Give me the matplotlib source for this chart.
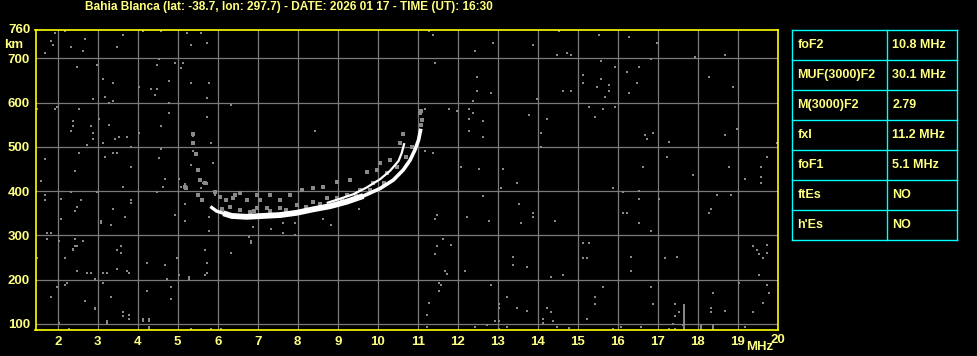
import matplotlib.pyplot as plt

# station / header
title = "Bahia Blanca (lat: -38.7, lon: 297.7) - DATE: 2026 01 17 - TIME (UT): 16:30"

# scaled parameters table
param_names = ["foF2", "MUF(3000)F2", "M(3000)F2", "fxI", "foF1", "ftEs", "h'Es"]
param_values = ["10.8 MHz", "30.1 MHz", "2.79", "11.2 MHz", "5.1 MHz", "NO", "NO"]

freq_ticks = list(range(2, 20))
height_ticks = [100, 200, 300, 400, 500, 600, 700]

# main echo trace (thick, lower/right branch)
trace1_f = [5.85, 5.97, 6.14, 6.35, 6.72, 7.14, 7.56, 7.97, 8.39, 8.81, 9.22, 9.64,
            10.06, 10.39, 10.64, 10.81, 10.93, 11.02, 11.07]
trace1_h = [363, 355, 350, 344, 342, 344, 346, 351, 359, 366, 376, 389,
            406, 425, 448, 470, 493, 515, 537]
# second trace (thin, upper/left branch)
trace2_f = [8.75, 9.0, 9.39, 9.72, 10.06, 10.31, 10.52, 10.6, 10.66]
trace2_h = [374, 381, 393, 408, 427, 446, 468, 486, 506]

# grey echoes around the trace
echo_f = [5.39, 5.39, 5.47, 5.52, 5.56, 5.68, 5.18, 5.22, 5.52, 5.6, 5.93, 6.06, 6.22,
          6.39, 6.43, 6.56, 6.72, 6.97, 7.06, 7.31, 7.56, 7.81, 8.1, 8.39, 8.64, 8.97,
          9.31, 9.72, 10.06, 10.31, 10.56, 10.64, 11.06, 11.08, 11.08, 6.31, 6.56, 6.97,
          7.22, 7.56, 7.97, 8.39, 8.72, 8.97, 9.22, 9.56, 9.89, 10.22, 10.47, 9.97,
          6.9, 7.3, 7.7, 8.2, 8.55, 9.1, 9.45, 9.8, 10.15, 10.7, 10.85, 11.1, 6.1, 6.8]
echo_h = [530, 508, 485, 448, 425, 418, 410, 406, 391, 380, 399, 387, 380,
          384, 391, 395, 380, 391, 380, 391, 380, 391, 403, 406, 410, 421,
          425, 444, 463, 470, 508, 530, 576, 580, 550, 365, 357, 361,
          361, 363, 369, 376, 384, 384, 391, 403, 418, 440, 455, 448,
          355, 356, 358, 364, 372, 380, 390, 402, 418, 478, 500, 560, 360, 352]

# scattered noise dots
noise_f = [1.93, 2.18, 1.83, 1.88, 1.68, 2.33, 2.68, 2.63, 3.63, 3.48, 4.13, 4.58, 5.23, 5.58,
           5.33, 5.73, 2.48, 2.98, 3.13, 3.38, 4.53, 4.48, 4.93, 5.13, 5.08, 4.78, 5.33, 5.78,
           4.03, 4.33, 4.48, 4.43, 2.88, 3.18, 3.38, 3.28, 5.73, 4.78, 1.48, 1.93, 1.98, 2.53,
           6.33, 2.38, 2.38, 2.33, 2.83, 2.88, 2.88, 3.03, 3.28, 3.43, 3.53, 3.73, 4.03, 4.58,
           4.78, 5.73, 2.73, 3.13, 5.38, 5.38, 5.83, 3.83, 4.58, 4.53, 5.38, 5.43, 5.88, 5.33,
           5.48, 5.53, 1.68, 2.53, 3.18, 3.38, 3.48, 3.83, 2.43, 4.68, 5.03, 5.58,
           11.28, 11.38, 12.43, 12.88, 13.88, 11.43, 12.48, 12.48, 12.83, 12.38, 11.18, 11.78,
           11.98, 12.28, 12.38, 12.28, 12.63, 12.28, 12.63, 13.78, 8.43, 11.18, 11.38, 12.08,
           12.53, 13.13,
           14.53, 15.53, 16.28, 16.98, 14.48, 14.73, 14.83, 16.83, 17.93, 18.68, 15.58, 15.93,
           16.53, 15.13, 16.23, 15.13, 15.58, 15.78, 15.48, 16.48, 14.63, 14.83, 15.78, 16.28,
           15.68, 18.28, 18.88, 13.98, 15.28, 15.63, 15.93, 15.43, 14.23, 14.08, 16.68, 16.88,
           16.73, 17.28, 18.68, 18.98, 19.98, 14.08, 17.23, 19.73, 16.63, 18.78, 19.58, 17.88,
           19.58, 19.18,
           1.58, 3.63, 4.63, 4.68, 5.03, 5.18, 5.08, 5.23, 5.58, 5.63, 5.73, 5.73, 5.58, 1.68,
           1.68, 2.08, 2.33, 2.98, 2.58, 2.48, 2.43, 3.38, 3.83, 3.83, 4.48, 5.48, 5.53, 5.58,
           5.93, 5.93, 5.18, 4.93, 5.18, 5.78, 2.08, 3.08, 3.08, 3.33, 3.68, 1.73, 1.83, 1.73,
           2.03, 2.43, 2.63, 2.38, 2.38, 2.43, 2.48, 3.48, 3.58, 3.58, 1.48, 2.18, 4.23, 4.68,
           4.98, 5.68, 5.73, 6.33, 5.78, 6.78, 6.83, 6.83, 6.88, 7.33, 7.63, 7.63, 2.48, 2.73,
           2.83, 3.13, 3.23, 3.48, 3.73, 3.78, 2.93, 4.73, 5.03, 5.28, 5.28, 5.68, 5.73, 1.98,
           2.18, 2.23, 3.13, 1.83, 2.68, 3.33, 4.23, 4.83, 4.83, 2.93, 3.63, 3.63, 3.78, 3.78,
           3.23, 3.23, 4.13, 4.13, 4.28, 4.28, 2.03, 2.28, 4.28, 4.28, 5.33, 5.83, 6.08, 2.68,
           2.93,
           13.48, 13.08, 12.63, 13.53, 13.88, 13.88, 13.58, 12.78, 12.23, 11.48, 11.43, 11.63,
           11.83, 11.48, 11.43, 13.38, 13.38, 13.73, 12.18, 11.68, 11.73, 11.53, 11.58, 11.53,
           12.83, 13.23, 11.28, 11.23, 11.23, 12.43, 12.73, 12.93, 13.03, 13.03, 13.03, 13.48,
           13.73, 13.23, 13.03, 7.93, 7.93, 8.83, 8.63, 9.53,
           19.18, 19.58, 15.88, 16.13, 16.53, 16.53, 17.03, 16.13, 16.23, 16.53, 16.83, 18.48,
           18.83, 18.33, 18.28, 14.43, 15.13, 15.28, 15.13, 15.23, 16.33, 16.33, 17.18, 17.48,
           19.38, 19.48, 19.73, 19.53, 19.73, 19.63, 19.53, 14.33, 14.63, 19.03, 19.73, 19.78,
           19.63, 19.38, 15.63, 15.43, 15.43, 16.83, 16.88, 18.38, 18.33, 18.33, 18.68, 14.23,
           14.33, 14.13, 14.38, 14.13, 14.48, 15.23, 14.78, 15.88, 16.08, 16.58, 17.43, 17.43,
           17.53, 17.38, 17.28, 17.43, 17.63, 19.18, 14.77]
noise_h = [758, 762, 740, 731, 713, 726, 744, 717, 753, 726, 761, 761, 758, 758,
           731, 735, 681, 686, 654, 645, 699, 686, 690, 690, 677, 649, 645, 645,
           636, 631, 631, 618, 609, 613, 604, 600, 610, 600, 586, 586, 591, 586,
           595, 559, 546, 536, 546, 532, 518, 564, 550, 518, 523, 523, 532, 546,
           577, 568, 505, 509, 524, 512, 509, 500, 496, 475, 491, 482, 464, 460,
           451, 451, 473, 487, 478, 487, 487, 455, 446, 428, 428, 428,
           762, 753, 717, 735, 731, 690, 658, 627, 622, 604, 586, 586,
           582, 586, 577, 564, 559, 536, 523, 573, 536, 491, 487, 455,
           451, 451,
           762, 753, 749, 735, 708, 713, 708, 699, 704, 708, 695, 681,
           681, 663, 668, 645, 654, 640, 636, 645, 627, 627, 627, 622,
           613, 658, 636, 609, 591, 586, 591, 568, 564, 532, 527, 532,
           518, 512, 527, 541, 509, 499, 478, 478, 455, 455, 455, 437,
           433, 428,
           424, 410, 410, 428, 428, 415, 410, 406, 428, 419, 419, 415, 406, 392,
           379, 383, 397, 397, 379, 365, 356, 360, 379, 374, 397, 392, 388, 379,
           397, 392, 370, 347, 333, 342, 338, 333, 329, 324, 342, 306, 306, 293,
           288, 293, 288, 270, 266, 275, 275, 266, 275, 261, 248, 248, 238, 234,
           248, 266, 238, 261, 311, 297, 288, 284, 320, 315, 329, 306, 220, 216,
           216, 216, 216, 225, 220, 216, 202, 202, 211, 207, 202, 211, 216, 184,
           189, 193, 193, 162, 153, 162, 175, 184, 157, 135, 126, 117, 121, 112,
           107, 103, 112, 107, 112, 107, 103, 89, 94, 89, 89, 89, 89, 153,
           134,
           419, 406, 388, 370, 351, 342, 329, 333, 342, 347, 338, 293,
           279, 275, 257, 252, 234, 229, 220, 220, 214, 193, 189, 175,
           187, 162, 148, 121, 94, 94, 98, 107, 107, 144, 135, 135,
           130, 94, 89, 329, 302, 324, 336, 360,
           428, 419, 408, 397, 401, 383, 383, 351, 351, 329, 311, 392,
           392, 360, 351, 333, 284, 284, 248, 248, 252, 220, 250, 252,
           277, 266, 279, 257, 261, 248, 211, 207, 211, 193, 189, 171,
           148, 126, 184, 162, 144, 184, 144, 171, 135, 126, 130, 135,
           126, 112, 107, 103, 94, 112, 92, 89, 94, 94, 144, 117,
           126, 101, 89, 89, 98, 94, 92]

# interference bars near the bottom
bar_f = [17.65, 18.08, 18.38]
bar_top = [145, 100, 100]

BG = "black"
TXT = "#FFFF80"
FONT = ["Liberation Sans Narrow", "Liberation Sans", "DejaVu Sans"]
plt.rcParams["font.family"] = FONT
plt.rcParams["font.weight"] = "bold"

fig = plt.figure(figsize=(9.78, 3.56), dpi=100, facecolor=BG)
ax = fig.add_axes([35.5 / 978, 26 / 356, 742.2 / 978, 300.3 / 356], facecolor=BG)
ax.set_xlim(1.445, 20)
ax.set_ylim(86.4, 764.6)

for f in freq_ticks:
    ax.axvline(f, color="#7a7a7a", lw=0.9, zorder=1)
for h in height_ticks:
    ax.axhline(h, color="#7a7a7a", lw=0.9, zorder=1)

ax.plot(noise_f, noise_h, ls="none", marker="s", ms=1.6, mew=0, color="#8a8a8a", zorder=2)
ax.vlines(bar_f, 86.4, bar_top, color="#8a8a8a", lw=1.4, zorder=2)
ax.plot(echo_f, echo_h, ls="none", marker="s", ms=2.8, mew=0, color="#8a8a8a", zorder=3)
# thick low part of the trace, thinner towards the top
ax.plot(trace1_f[:3], trace1_h[:3], color="white", lw=2.4, zorder=4)
ax.plot(trace1_f[2:12], trace1_h[2:12], color="white", lw=4.2, solid_capstyle="butt", zorder=4)
ax.plot(trace1_f[11:], trace1_h[11:], color="white", lw=2.6, zorder=4)
ax.plot(trace2_f, trace2_h, color="white", lw=1.6, zorder=4)

for s in ax.spines.values():
    s.set_color("#FFFF00")
    s.set_linewidth(1.2)

ax.set_xticks(freq_ticks)
ax.set_xticklabels([str(f) for f in freq_ticks])
ax.set_yticks(height_ticks)
ax.tick_params(length=0, colors=TXT, labelsize=9.5, pad=4)
for lab in ax.get_xticklabels() + ax.get_yticklabels():
    lab.set_fontweight("bold")

ax.text(-0.006, 1.0, "760", transform=ax.transAxes, ha="right", va="center",
        color=TXT, fontsize=9.5, fontweight="bold")
ax.text(-0.03, 0.95, "km", transform=ax.transAxes, ha="center", va="center",
        color=TXT, fontsize=9.5, fontweight="bold")
fig.text(760 / 978, 1 - 347 / 356, "MHz", ha="center", va="center", color=TXT,
         fontsize=9.5, fontweight="bold")
fig.text(778 / 978, 1 - 340 / 356, "20", ha="center", va="center", color=TXT,
         fontsize=9.5, fontweight="bold")

fig.text(289 / 978, 1 - 7 / 356, title, ha="center", va="center", color=TXT,
         fontsize=8.6, fontweight="bold")

# parameter table
tx0, tx1, tcol = 792.3, 957.3, 887.3
ty0, row_h = 30.3, 30.0
tab = fig.add_axes([0, 0, 1, 1], facecolor="none")
tab.set_xlim(0, 978)
tab.set_ylim(356, 0)
tab.axis("off")
n = len(param_names)
for i in range(n + 1):
    tab.plot([tx0, tx1], [ty0 + i * row_h] * 2, color="#00FFFF", lw=1.0)
for x in (tx0, tcol, tx1):
    tab.plot([x, x], [ty0, ty0 + n * row_h], color="#00FFFF", lw=1.0)
for i, (name, val) in enumerate(zip(param_names, param_values)):
    yc = ty0 + (i + 0.5) * row_h
    tab.text(tx0 + 5, yc, name, ha="left", va="center", color=TXT, fontsize=9, fontweight="bold")
    tab.text(tcol + 5, yc, val, ha="left", va="center", color=TXT, fontsize=9, fontweight="bold")

fig.savefig("out.png", dpi=100, facecolor=BG)
